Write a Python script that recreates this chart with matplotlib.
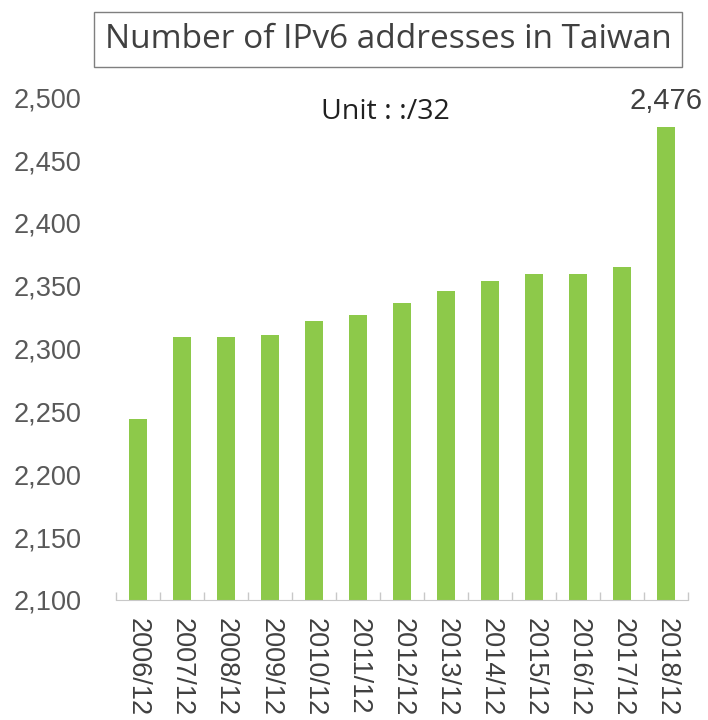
import numpy as np
import matplotlib.pyplot as plt
from matplotlib.ticker import FuncFormatter, FixedLocator

years = ["2006/12", "2007/12", "2008/12", "2009/12", "2010/12", "2011/12", "2012/12",
         "2013/12", "2014/12", "2015/12", "2016/12", "2017/12", "2018/12"]
counts = [2244, 2309, 2309, 2311, 2322, 2327, 2336, 2346, 2354, 2359, 2359, 2365, 2476]
y_ticks = [2100, 2150, 2200, 2250, 2300, 2350, 2400, 2450, 2500]

plt.rcParams['font.family'] = ['Liberation Sans', 'DejaVu Sans']

fig = plt.figure(figsize=(7.08, 7.2), dpi=100)
ax = fig.add_axes([0.164, 0.1667, 0.808, 0.6983])

x = np.arange(len(years))
ax.bar(x, counts, width=0.4, color='#8DC94A')

ax.set_xlim(-0.5, len(years) - 0.5)
ax.set_ylim(2100, 2500)
ax.set_yticks(y_ticks)
ax.yaxis.set_major_formatter(FuncFormatter(lambda v, p: f"{int(v):,}"))
ax.tick_params(axis='y', length=0, labelsize=19.5, labelcolor='#595959', pad=25)

ax.set_xticks(x)
ax.set_xticklabels(years, rotation=-90, fontsize=19.5, color='#404040')
ax.tick_params(axis='x', which='major', length=0, pad=13)
ax.xaxis.set_minor_locator(FixedLocator(np.arange(-0.5, len(years), 1.0)))
ax.tick_params(axis='x', which='minor', direction='in', length=6, color='#C8C8C8', width=1)

for side in ['top', 'right', 'left']:
    ax.spines[side].set_visible(False)
ax.spines['bottom'].set_color('#C8C8C8')

# label on last bar
ax.text(x[-1], counts[-1] + 10, f"{counts[-1]:,}", ha='center', va='bottom',
        fontsize=21, color='#404040', clip_on=False)

fig.text(0.545, 0.845, "Unit : :/32", ha='center', va='center', fontsize=20.5,
         family=['Open Sans', 'DejaVu Sans'], color='#202020')

fig.text(0.548, 0.945, "Number of IPv6 addresses in Taiwan", ha='center', va='center',
         fontsize=24, family=['Open Sans', 'DejaVu Sans'], color='#404040',
         bbox=dict(boxstyle='square,pad=0.32', fc='white', ec='#7F7F7F', lw=1))

fig.savefig('out.png', dpi=100)
